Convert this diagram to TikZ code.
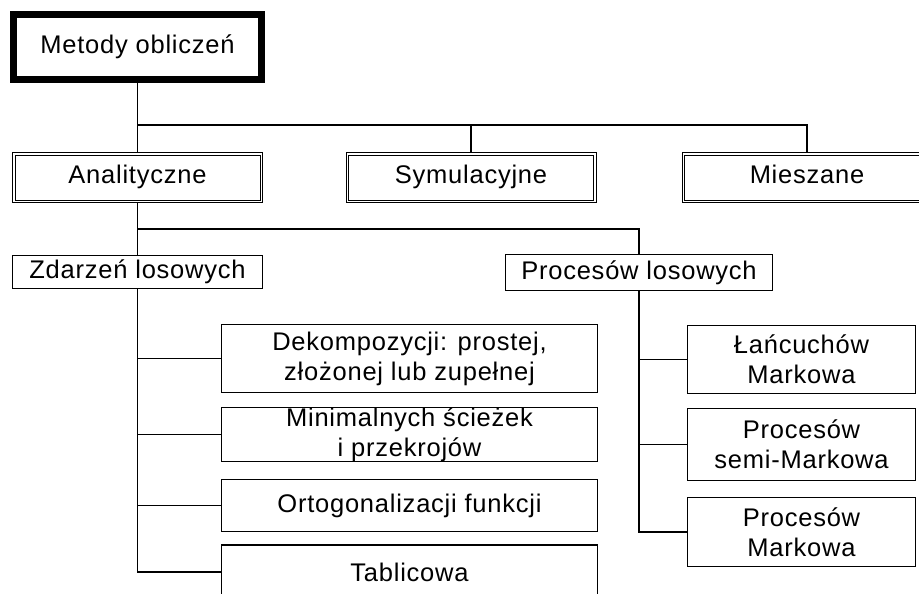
\documentclass[tikz,border=0pt]{standalone}
\usepackage{fontspec}
\setmainfont{Liberation Sans}[LetterSpace=3]
\usepackage{tikz}
\usetikzlibrary{positioning}

\begin{document}
\begin{tikzpicture}[x=1pt, y=-1pt,
  box/.style={draw, line width=1.3pt, align=center, inner sep=0pt,
    font=\fontsize{25.5}{30}\selectfont},
  dbox/.style={box, line width=1pt, double, double distance=1.5pt,
    text height=18pt, text depth=6pt},
  rootbox/.style={box, line width=7pt},
  link/.style={line width=1.3pt}]
  \useasboundingbox (0, 0) rectangle (919, 594);
  \clip (0, 0) rectangle (919, 594);

  % Top level
  \node[rootbox, minimum width=248, minimum height=65] (metody) at (137.5, 47)
    {Metody obliczeń};

  % Second level
  \node[dbox, minimum width=247.5, minimum height=47.5] (analit) at (137.5, 177.5)
    {Analityczne};
  \node[dbox, minimum width=247.5, minimum height=47.5] (symul) at (471, 177.5)
    {Symulacyjne};
  \node[dbox, minimum width=247.5, minimum height=47.5] (miesz) at (807, 177.5)
    {Mieszane};

  % Third level
  \node[box, minimum width=250, minimum height=33] (zdarz) at (137.5, 272)
    {Zdarzeń losowych};
  \node[box, minimum width=267, minimum height=36] (proces) at (639, 272.5)
    {Procesów losowych};

  % Methods of random events
  \node[box, minimum width=376, minimum height=68] (dekomp) at (409.5, 358.5)
    {Dekompozycji: prostej,\\złożonej lub zupełnej};
  \node[box, minimum width=376, minimum height=54] (minim) at (409.5, 434.5)
    {Minimalnych ścieżek\\i przekrojów};
  \node[box, minimum width=376, minimum height=52] (ortog) at (409.5, 505.5)
    {Ortogonalizacji funkcji};
  \node[box, minimum width=376, minimum height=54] (tablic) at (409.5, 572)
    {Tablicowa};

  % Methods of random processes
  \node[box, minimum width=228, minimum height=68] (lancuch) at (801.5, 359.5)
    {Łańcuchów\\Markowa};
  \node[box, minimum width=228, minimum height=72] (semi) at (801.5, 444.5)
    {Procesów\\semi-Markowa};
  \node[box, minimum width=228, minimum height=69] (markow) at (801.5, 532)
    {Procesów\\Markowa};

  % Connectors
  \coordinate (busA) at (137.5, 125);
  \coordinate (busB) at (137.5, 229);
  \draw[link] (metody.south) -- (analit.north);
  \draw[link] (busA) -| (miesz.north);
  \draw[link] (busA -| symul.north) -- (symul.north);
  \draw[link] (analit.south) -- (zdarz.north);
  \draw[link] (busB) -| (proces.north);
  \foreach \n in {dekomp, minim, ortog, tablic}
    \draw[link] (zdarz.south) |- (\n.west);
  \foreach \n in {lancuch, semi, markow}
    \draw[link] (proces.south) |- (\n.west);
\end{tikzpicture}
\end{document}
